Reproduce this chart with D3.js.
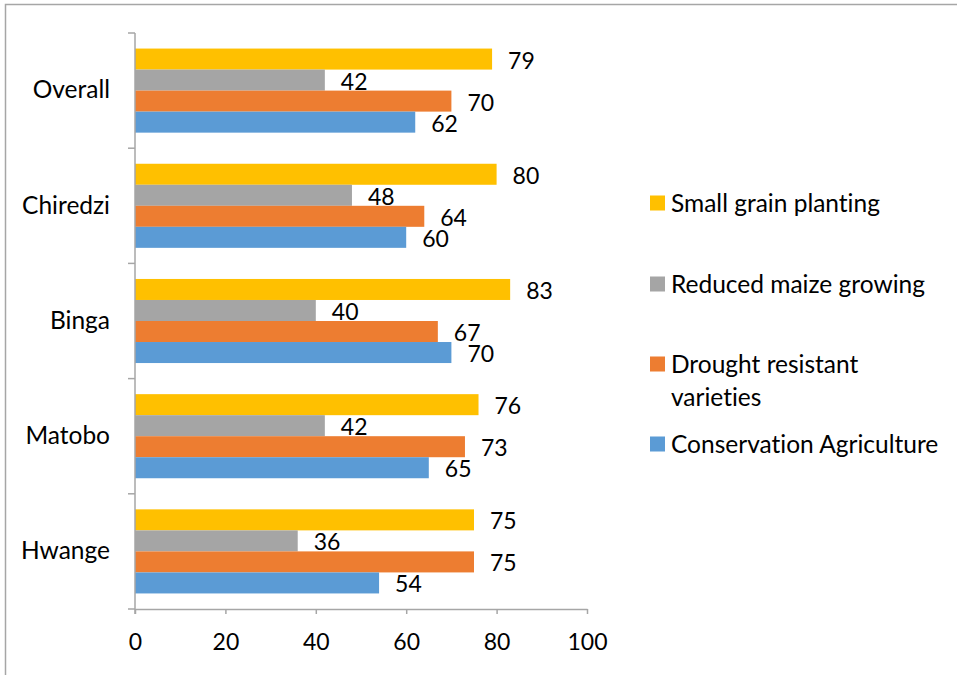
<!DOCTYPE html>
<html>
<head>
<meta charset="utf-8">
<script src="https://cdn.jsdelivr.net/npm/d3@7"></script>
<style>
  body { margin: 0; background: #fff; }
  text { font-family: Lato, "Open Sans", sans-serif; fill: #000; font-variant-ligatures: none; }
</style>
</head>
<body>
<div id="chart"></div>
<script>
// data, categories listed top to bottom
var categories = ["Overall", "Chiredzi", "Binga", "Matobo", "Hwange"];
var seriesNames = ["Small grain planting", "Reduced maize growing", "Drought resistant varieties", "Conservation Agriculture"];
var smallGrain = [79, 80, 83, 76, 75];
var reducedMaize = [42, 48, 40, 42, 36];
var droughtResistant = [70, 64, 67, 73, 75];
var conservation = [62, 60, 70, 65, 54];
var xTicks = [0, 20, 40, 60, 80, 100];

var colors = ["#FFC000", "#A5A5A5", "#ED7D31", "#5B9BD5"];
var values = [smallGrain, reducedMaize, droughtResistant, conservation];

var width = 957,
    height = 675;

var svg = d3.select("#chart")
    .append("svg")
      .attr("width", width)
      .attr("height", height);

// outer frame (only top and left edges visible)
svg.append("rect")
    .attr("x", 5.5)
    .attr("y", 4.5)
    .attr("width", width + 20)
    .attr("height", height + 20)
    .attr("fill", "none")
    .attr("stroke", "#A6A6A6")
    .attr("stroke-width", 1.5);

var x = d3.scaleLinear()
    .domain([0, 100])
    .range([135, 587]);

var y = d3.scaleBand()
    .domain(categories)
    .range([33, 609]);

var inner = d3.scaleBand()
    .domain(d3.range(seriesNames.length))
    .range([0, y.bandwidth()])
    .paddingOuter(0.74)
    .paddingInner(0);

// bars
var groups = svg.selectAll("g.cat")
    .data(categories)
    .enter()
    .append("g")
      .attr("class", "cat")
      .attr("transform", function(d) { return "translate(0," + y(d) + ")"; });

groups.each(function(cat, ci) {
    var g = d3.select(this);
    var rows = values.map(function(v, si) { return {s: si, v: v[ci]}; });

    g.selectAll("rect")
      .data(rows)
      .enter()
      .append("rect")
        .attr("x", x(0))
        .attr("y", function(d) { return inner(d.s); })
        .attr("width", function(d) { return x(d.v) - x(0); })
        .attr("height", inner.bandwidth())
        .attr("fill", function(d) { return colors[d.s]; });

    g.selectAll("text.val")
      .data(rows)
      .enter()
      .append("text")
        .attr("class", "val")
        .attr("x", function(d) { return x(d.v) + 16; })
        .attr("y", function(d) { return inner(d.s) + inner.bandwidth() / 2 + 1.5; })
        .attr("dy", "0.35em")
        .style("font-size", "23px")
        .text(function(d) { return d.v; });
});

// y axis: labels from the band scale, ticks at band edges
var yAxis = svg.append("g")
    .attr("transform", "translate(" + x(0) + ",0)")
    .call(d3.axisLeft(y).tickSize(0).tickPadding(25));
yAxis.select(".domain").remove();
yAxis.selectAll("text")
    .style("font-size", "24.5px")
    .attr("font-family", null);

var edges = categories.map(function(c) { return y(c); }).concat([y.range()[1]]);
svg.selectAll("line.ytick")
    .data(edges)
    .enter()
    .append("line")
      .attr("class", "ytick")
      .attr("x1", x(0) - 7)
      .attr("x2", x(0))
      .attr("y1", function(d) { return d; })
      .attr("y2", function(d) { return d; })
      .attr("stroke", "#A6A6A6")
      .attr("stroke-width", 1.5);

svg.append("line")
    .attr("x1", x(0))
    .attr("x2", x(0))
    .attr("y1", y.range()[0])
    .attr("y2", y.range()[1] + 5)
    .attr("stroke", "#A6A6A6")
    .attr("stroke-width", 1.5);

// x axis
var xAxis = svg.append("g")
    .attr("transform", "translate(0," + y.range()[1] + ")")
    .call(d3.axisBottom(x).tickValues(xTicks).tickSize(5).tickSizeOuter(0).tickPadding(20));
xAxis.select(".domain")
    .attr("stroke", "#A6A6A6")
    .attr("stroke-width", 1.5);
xAxis.selectAll(".tick line")
    .attr("stroke", "#A6A6A6")
    .attr("stroke-width", 1.5);
xAxis.selectAll("text")
    .style("font-size", "23px")
    .attr("font-family", null);

// legend
var legendY = [203, 284, 364, 444];
var legendLines = [["Small grain planting"], ["Reduced maize growing"], ["Drought resistant", "varieties"], ["Conservation Agriculture"]];

var legend = svg.selectAll("g.legend")
    .data(seriesNames)
    .enter()
    .append("g")
      .attr("class", "legend")
      .attr("transform", function(d, i) { return "translate(650," + legendY[i] + ")"; });

legend.append("rect")
    .attr("x", 0)
    .attr("y", -7.5)
    .attr("width", 15)
    .attr("height", 15)
    .attr("fill", function(d, i) { return colors[i]; });

legend.each(function(d, i) {
    var t = d3.select(this).append("text")
        .attr("x", 21)
        .attr("y", 0)
        .style("font-size", "24.5px");
    legendLines[i].forEach(function(line, li) {
        t.append("tspan")
          .attr("x", 21)
          .attr("dy", li === 0 ? "0.35em" : "33px")
          .text(line);
    });
});
</script>
</body>
</html>
